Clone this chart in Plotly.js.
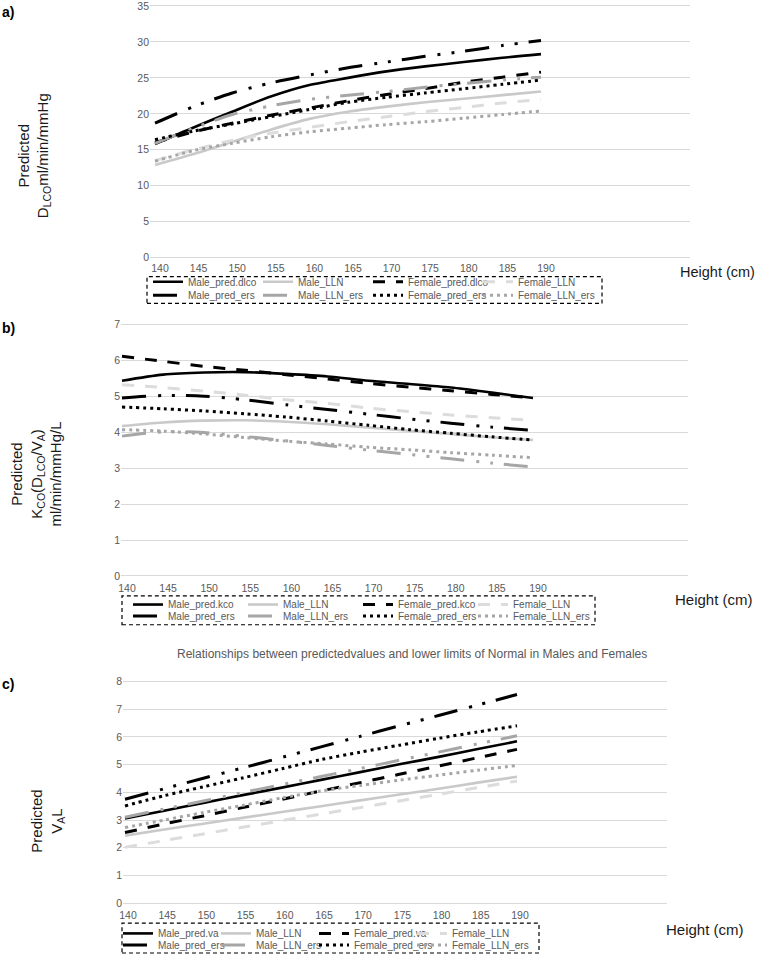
<!DOCTYPE html>
<html><head><meta charset="utf-8">
<script src="https://cdn.plot.ly/plotly-3.0.1.min.js"></script>
<style>html,body{margin:0;padding:0;background:#fff;}#chart{width:757px;height:960px;}</style>
</head><body><div id="chart"></div>
<script>
// ---------- DATA ----------
const heights = [140, 145, 150, 155, 160, 165, 170, 175, 180, 185, 190];
const xTickVals = [140, 145, 150, 155, 160, 165, 170, 175, 180, 185, 190];

// a) DLCO (ml/min/mmHg)
const namesA = ['Male_pred.dlco', 'Male_LLN', 'Female_pred.dlco', 'Female_LLN', 'Male_pred_ers', 'Male_LLN_ers', 'Female_pred_ers', 'Female_LLN_ers'];
const a_male_pred       = [15.8, 18.1, 20.3, 22.4, 24.0, 25.0, 25.9, 26.6, 27.2, 27.8, 28.3];
const a_male_lln        = [12.9, 14.4, 16.1, 17.8, 19.3, 20.3, 21.0, 21.6, 22.1, 22.6, 23.1];
const a_female_pred     = [16.0, 17.5, 18.7, 19.8, 20.8, 21.8, 22.7, 23.5, 24.4, 25.1, 25.8];
const a_female_lln      = [13.5, 15.0, 16.3, 17.3, 18.1, 18.9, 19.6, 20.3, 20.9, 21.5, 22.0];
const a_male_pred_ers   = [18.7, 21.0, 22.9, 24.3, 25.4, 26.4, 27.2, 28.0, 28.7, 29.5, 30.2];
const a_male_lln_ers    = [15.9, 18.0, 19.9, 21.1, 22.0, 22.6, 23.1, 23.7, 24.2, 24.7, 25.1];
const a_female_pred_ers = [16.4, 17.6, 18.6, 19.6, 20.6, 21.6, 22.3, 22.9, 23.5, 24.1, 24.7];
const a_female_lln_ers  = [13.4, 14.9, 15.9, 16.8, 17.5, 18.0, 18.5, 18.9, 19.4, 19.9, 20.4];

// b) KCO (ml/min/mmHg/L)
const namesB = ['Male_pred.kco', 'Male_LLN', 'Female_pred.kco', 'Female_LLN', 'Male_pred_ers', 'Male_LLN_ers', 'Female_pred_ers', 'Female_LLN_ers'];
const b_male_pred       = [5.43, 5.60, 5.66, 5.67, 5.62, 5.55, 5.43, 5.34, 5.24, 5.10, 4.95];
const b_male_lln        = [4.17, 4.27, 4.32, 4.33, 4.29, 4.22, 4.13, 4.04, 3.95, 3.86, 3.78];
const b_female_pred     = [6.11, 5.97, 5.83, 5.72, 5.60, 5.48, 5.36, 5.25, 5.15, 5.05, 4.95];
const b_female_lln      = [5.32, 5.24, 5.14, 5.03, 4.90, 4.80, 4.67, 4.57, 4.48, 4.40, 4.33];
const b_male_pred_ers   = [4.95, 5.02, 5.00, 4.90, 4.76, 4.63, 4.50, 4.37, 4.25, 4.14, 4.05];
const b_male_lln_ers    = [3.89, 4.01, 3.99, 3.88, 3.76, 3.63, 3.50, 3.38, 3.26, 3.14, 3.03];
const b_female_pred_ers = [4.70, 4.65, 4.59, 4.51, 4.42, 4.31, 4.19, 4.07, 3.97, 3.87, 3.78];
const b_female_lln_ers  = [4.07, 4.03, 3.95, 3.85, 3.75, 3.67, 3.58, 3.51, 3.43, 3.36, 3.29];

// c) VA (L)
const namesC = ['Male_pred.va', 'Male_LLN', 'Female_pred.va', 'Female_LLN', 'Male_pred_ers', 'Male_LLN_ers', 'Female_pred_ers', 'Female_LLN_ers'];
const c_male_pred       = [3.06, 3.34, 3.62, 3.90, 4.17, 4.45, 4.73, 5.01, 5.28, 5.56, 5.84];
const c_male_lln        = [2.44, 2.66, 2.87, 3.08, 3.29, 3.50, 3.71, 3.92, 4.13, 4.35, 4.56];
const c_female_pred     = [2.55, 2.86, 3.15, 3.45, 3.75, 4.05, 4.35, 4.65, 4.95, 5.25, 5.55];
const c_female_lln      = [2.02, 2.26, 2.50, 2.74, 2.98, 3.22, 3.45, 3.69, 3.93, 4.17, 4.41];
const c_male_pred_ers   = [3.75, 4.13, 4.51, 4.88, 5.26, 5.64, 6.02, 6.40, 6.77, 7.15, 7.53];
const c_male_lln_ers    = [3.10, 3.40, 3.69, 3.99, 4.28, 4.57, 4.86, 5.16, 5.45, 5.75, 6.04];
const c_female_pred_ers = [3.51, 3.88, 4.20, 4.52, 4.85, 5.18, 5.45, 5.70, 5.95, 6.18, 6.40];
const c_female_lln_ers  = [2.73, 3.00, 3.27, 3.53, 3.80, 4.05, 4.25, 4.44, 4.62, 4.80, 4.97];

// ---------- STYLE ----------
const W = 757, H = 960;
const FONT = 'Liberation Sans, Arial, sans-serif';
const DDOT = '24px,12px,3px,11px,3px,11px';
const styles = [
  {color: '#000000', width: 2.6, dash: 'solid'},          // Male_pred
  {color: '#c9c9c9', width: 2.6, dash: 'solid'},          // Male_LLN
  {color: '#000000', width: 3, dash: '12px,11px'},        // Female_pred
  {color: '#dcdcdc', width: 3, dash: '12px,11px'},        // Female_LLN
  {color: '#000000', width: 3, dash: DDOT},               // Male_pred_ers
  {color: '#a6a6a6', width: 3, dash: DDOT},               // Male_LLN_ers
  {color: '#000000', width: 3, dash: '3px,4px'},          // Female_pred_ers
  {color: '#a6a6a6', width: 3, dash: '3px,4px'}           // Female_LLN_ers
];

const panels = [
  {names: namesA, series: [a_male_pred, a_male_lln, a_female_pred, a_female_lln, a_male_pred_ers, a_male_lln_ers, a_female_pred_ers, a_female_lln_ers], xa: 'x', ya: 'y', leg: ['legend', 'legend2']},
  {names: namesB, series: [b_male_pred, b_male_lln, b_female_pred, b_female_lln, b_male_pred_ers, b_male_lln_ers, b_female_pred_ers, b_female_lln_ers], xa: 'x2', ya: 'y2', leg: ['legend3', 'legend4']},
  {names: namesC, series: [c_male_pred, c_male_lln, c_female_pred, c_female_lln, c_male_pred_ers, c_male_lln_ers, c_female_pred_ers, c_female_lln_ers], xa: 'x3', ya: 'y3', leg: ['legend5', 'legend6']}
];

const traces = [];
panels.forEach(p => {
  p.series.forEach((vals, i) => {
    const t = {
      type: 'scatter', mode: 'lines', x: heights, y: vals, name: p.names[i],
      xaxis: p.xa, yaxis: p.ya, legend: i < 4 ? p.leg[0] : p.leg[1],
      line: {color: styles[i].color, width: styles[i].width, dash: styles[i].dash, shape: 'spline', smoothing: 0.8},
      hoverinfo: 'skip'
    };
    if (i === 3 || i === 7) t.legendwidth = 110;
    traces.push(t);
  });
});

// pixel helpers
const px = v => v / W;
const py = v => 1 - v / H;

function xAxis(pxStart, pxEnd, pxAt140, pxAt190, anchor, shift, standoff) {
  const s = (pxAt190 - pxAt140) / 50;
  return {
    domain: [px(pxStart), px(pxEnd)], anchor: anchor,
    range: [140 - (pxAt140 - pxStart) / s, 190 + (pxEnd - pxAt190) / s],
    tickvals: xTickVals, showgrid: false, zeroline: false, showline: false, ticks: '',
    ticklabelshift: shift, ticklabelstandoff: standoff, ticklabeloverflow: 'allow',
    tickfont: {family: FONT, size: 10.5, color: '#595959'}
  };
}
// top/bottom = pixel rows of the max and zero gridlines; pad keeps edge gridlines visible
function yAxis(top, bottom, max, dtick, anchor) {
  const pad = 3;
  const ppu = (bottom - top) / max;
  return {
    domain: [py(bottom + pad), py(top - pad)], anchor: anchor,
    range: [-pad / ppu, max + pad / ppu], dtick: dtick, tick0: 0,
    showgrid: true, gridcolor: '#d9d9d9', gridwidth: 1, zeroline: false, showline: false, ticks: '',
    ticklabeloverflow: 'allow',
    tickfont: {family: FONT, size: 10.5, color: '#595959'}
  };
}

function legendRow(xPix, yPix, ew) {
  return {
    orientation: 'h', x: px(xPix), y: py(yPix), xanchor: 'left', yanchor: 'middle',
    xref: 'paper', yref: 'paper',
    entrywidth: ew, entrywidthmode: 'pixels', itemwidth: 30,
    bgcolor: 'rgba(0,0,0,0)', borderwidth: 0, traceorder: 'normal',
    font: {family: FONT, size: 10, color: '#595959'}
  };
}

function boxShape(x0, x1, y0, y1) {
  return {type: 'rect', xref: 'paper', yref: 'paper', x0: px(x0), x1: px(x1), y0: py(y1), y1: py(y0),
    line: {color: '#000', width: 1.2, dash: '4px,3px'}, fillcolor: 'rgba(0,0,0,0)'};
}

function ann(text, xPix, yPix, opts) {
  return Object.assign({text: text, xref: 'paper', yref: 'paper', x: px(xPix), y: py(yPix),
    showarrow: false, xanchor: 'center', yanchor: 'middle',
    font: {family: FONT, size: 15, color: '#1a1a1a'}}, opts || {});
}

const layout = {
  width: W, height: H, margin: {l: 0, r: 0, t: 0, b: 0},
  paper_bgcolor: '#fff', plot_bgcolor: '#fff', font: {family: FONT},
  xaxis: xAxis(150, 690, 155, 541, 'y', 5, 0),
  yaxis: yAxis(6, 259, 35, 5, 'x'),
  xaxis2: xAxis(121, 688, 122, 533, 'y2', 5, 2),
  yaxis2: yAxis(326, 579, 7, 1, 'x2'),
  xaxis3: xAxis(123, 667, 125, 517, 'y3', 3, 1),
  yaxis3: yAxis(685, 908, 8, 1, 'x3'),
  showlegend: true,
  legend: legendRow(148, 283.3, 65),
  legend2: legendRow(148, 296.7, 65),
  legend3: legendRow(128, 607.7, 70),
  legend4: legendRow(128, 619.3, 70),
  legend5: legendRow(118, 938.3, 53),
  legend6: legendRow(118, 950, 53),
  shapes: [boxShape(147, 602, 278, 305), boxShape(122, 595, 599, 628), boxShape(122, 539, 928, 958)],
  annotations: [
    ann('<b>a)</b>', 0, 12, {xanchor: 'left', font: {family: FONT, size: 14, color: '#000'}}),
    ann('<b>b)</b>', 0, 330, {xanchor: 'left', font: {family: FONT, size: 14, color: '#000'}}),
    ann('<b>c)</b>', 0, 688, {xanchor: 'left', font: {family: FONT, size: 14, color: '#000'}}),
    ann('Predicted<br>D<sub>LCO</sub>ml/min/mmHg', 34, 157, {textangle: -90}),
    ann('Predicted<br>K<sub>CO</sub>(D<sub>LCO</sub>/V<sub>A</sub>)<br>ml/min/mmHg/L', 36, 477, {textangle: -90}),
    ann('Predicted<br>V<sub>A</sub>L', 48, 826, {textangle: -90}),
    ann('Height (cm)', 678, 273, {xanchor: 'left', font: {family: FONT, size: 14.5, color: '#1a1a1a'}}),
    ann('Height (cm)', 673, 603, {xanchor: 'left'}),
    ann('Height (cm)', 664, 934, {xanchor: 'left'}),
    ann('Relationships between predictedvalues and lower limits of Normal in Males and Females', 412, 657,
      {font: {family: FONT, size: 12, color: '#595959'}})
  ]
};

Plotly.newPlot('chart', traces, layout, {staticPlot: true, displayModeBar: false});
</script></body></html>
